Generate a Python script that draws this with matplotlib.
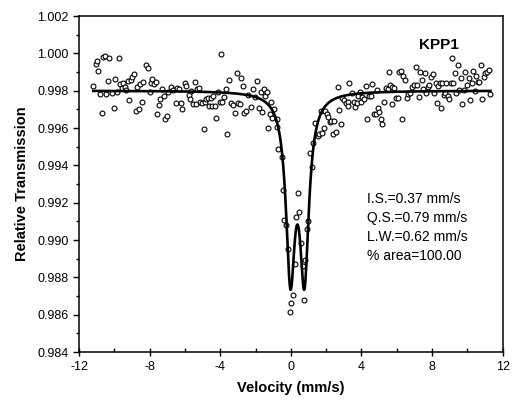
import numpy as np
import matplotlib.pyplot as plt

plt.rcParams['font.family'] = ['Liberation Sans', 'DejaVu Sans']
plt.rcParams['axes.unicode_minus'] = False

# measured spectrum (velocity in mm/s, relative transmission)
velocity = [
    -11.19, -11.06, -11.00, -10.91, -10.81, -10.72, -10.66, -10.53, -10.48, -10.38,
    -10.29, -10.15, -10.04, -9.95, -9.87, -9.76, -9.69, -9.59, -9.50, -9.40,
    -9.31, -9.23, -9.16, -9.08, -8.99, -8.89, -8.78, -8.71, -8.60, -8.52,
    -8.44, -8.37, -8.18, -8.09, -7.99, -7.93, -7.84, -7.77, -7.65, -7.56,
    -7.47, -7.39, -7.30, -7.20, -7.13, -7.01, -6.94, -6.77, -6.68, -6.52,
    -6.45, -6.34, -6.24, -6.14, -6.00, -5.92,
    -5.79, -5.73, -5.64, -5.55, -5.45, -5.39, -5.30, -5.22, -5.13, -5.04,
    -4.94, -4.89, -4.79, -4.70, -4.64, -4.55, -4.47, -4.39, -4.32, -4.22,
    -4.13, -4.02, -3.96, -3.89, -3.80, -3.68, -3.60, -3.51, -3.38, -3.25,
    -3.15, -3.06, -2.97, -2.87, -2.80, -2.70, -2.63, -2.53, -2.40, -2.27,
    -2.17, -2.02, -1.93, -1.82, -1.72, -1.65, -1.55, -1.48, -1.38,
    -1.31, -1.20, -1.13, -1.06, -0.97, -0.80, -0.76, -0.71, -0.52, -0.42,
    -0.37, -0.27, -0.18, -0.07, 0.01, 0.10, 0.24, 0.27, 0.38, 0.48,
    0.57, 0.67, 0.72, 0.80, 0.89, 0.99, 1.08, 1.17, 1.23, 1.34,
    1.51, 1.61, 1.70, 1.79, 1.89, 1.95, 2.02, 2.12, 2.19, 2.27,
    2.36, 2.46, 2.55, 2.68, 2.74, 2.83, 2.89, 3.02, 3.12, 3.21,
    3.26, 3.30,
    3.45, 3.55, 3.64, 3.74, 3.81, 3.91, 3.98, 4.05, 4.15, 4.25,
    4.34, 4.43, 4.53, 4.62, 4.71, 4.81, 4.88, 4.96, 5.01, 5.11,
    5.18, 5.30, 5.41, 5.50, 5.56, 5.62, 5.71, 5.75, 5.83, 5.94,
    6.05, 6.13, 6.22, 6.28, 6.35, 6.45, 6.56, 6.63, 6.73, 6.84,
    6.97, 7.07, 7.16, 7.26, 7.33, 7.42, 7.50, 7.59, 7.67, 7.76,
    7.82, 7.95, 8.05, 8.10, 8.20, 8.25, 8.35, 8.44, 8.50, 8.57,
    8.65, 8.72, 8.80, 8.88, 8.95, 9.05, 9.10, 9.19, 9.29, 9.36,
    9.46, 9.51, 9.61, 9.70, 9.80, 9.89, 9.98, 10.08, 10.17, 10.26,
    10.34, 10.42, 10.49, 10.59, 10.68, 10.77, 10.83, 10.93, 11.02, 11.11,
    11.21, 11.30,
]
transmission = [
    0.99825, 0.99941, 0.99960, 0.99905, 0.99782, 0.99682, 0.99982, 0.99987, 0.99782, 0.99852,
    0.99973, 0.99786, 0.99705, 0.99861, 0.99794, 0.99973, 0.99836, 0.99816, 0.99839, 0.99821,
    0.99803, 0.99852, 0.99750, 0.99857, 0.99875, 0.99889, 0.99692, 0.99821, 0.99700, 0.99834,
    0.99741, 0.99845, 0.99937, 0.99920, 0.99794, 0.99843, 0.99861, 0.99836, 0.99848, 0.99673,
    0.99723, 0.99755, 0.99807, 0.99771, 0.99646, 0.99664, 0.99794, 0.99821, 0.99803, 0.99732,
    0.99812, 0.99807, 0.99732, 0.99700, 0.99843, 0.99825,
    0.99777, 0.99755, 0.99800, 0.99729, 0.99845, 0.99729, 0.99807, 0.99816, 0.99741, 0.99736,
    0.99596, 0.99741, 0.99754, 0.99762, 0.99720, 0.99759, 0.99718, 0.99771, 0.99718, 0.99655,
    0.99794, 0.99739, 0.99995, 0.99739, 0.99764, 0.99809, 0.99566, 0.99857, 0.99732, 0.99723,
    0.99679, 0.99893, 0.99732, 0.99727, 0.99866, 0.99825, 0.99679, 0.99693, 0.99778, 0.99711,
    0.99811, 0.99768, 0.99853, 0.99706, 0.99794, 0.99684, 0.99809, 0.99771, 0.99793,
    0.99602, 0.99673, 0.99741, 0.99656, 0.99700, 0.99650, 0.99607, 0.99486, 0.99446, 0.99268,
    0.99107, 0.99080, 0.98952, 0.98613, 0.98661, 0.98705, 0.98870, 0.99122, 0.99253, 0.99152,
    0.98982, 0.98862, 0.98679, 0.98893, 0.99057, 0.99103, 0.99468, 0.99389, 0.99521, 0.99625,
    0.99557, 0.99568, 0.99691, 0.99572, 0.99598, 0.99691, 0.99673, 0.99657, 0.99634, 0.99638,
    0.99566, 0.99638, 0.99580, 0.99818, 0.99696, 0.99621, 0.99759, 0.99750, 0.99732, 0.99741,
    0.99718, 0.99843,
    0.99789, 0.99741, 0.99711, 0.99732, 0.99771, 0.99791, 0.99741, 0.99764, 0.99755, 0.99825,
    0.99650, 0.99773, 0.99771, 0.99834, 0.99675, 0.99673, 0.99804, 0.99706, 0.99687, 0.99650,
    0.99620, 0.99741, 0.99813, 0.99807, 0.99898, 0.99830, 0.99821, 0.99727, 0.99813, 0.99759,
    0.99762, 0.99902, 0.99907, 0.99647, 0.99880, 0.99857, 0.99759, 0.99782, 0.99789, 0.99818,
    0.99830, 0.99928, 0.99830, 0.99768, 0.99898, 0.99857, 0.99809, 0.99893, 0.99789, 0.99821,
    0.99829, 0.99872, 0.99889, 0.99786, 0.99843, 0.99732, 0.99825, 0.99843, 0.99706, 0.99843,
    0.99777, 0.99786, 0.99843, 0.99771, 0.99757, 0.99843, 0.99973, 0.99843, 0.99893, 0.99786,
    0.99938, 0.99804, 0.99866, 0.99727, 0.99804, 0.99902, 0.99830, 0.99866, 0.99750, 0.99843,
    0.99907, 0.99800, 0.99879, 0.99848, 0.99845, 0.99938, 0.99754, 0.99875, 0.99896, 0.99902,
    0.99911, 0.99782,
]

# fitted doublet parameters (as printed on the chart)
isomer_shift = 0.37     # mm/s
quad_split = 0.79       # mm/s
line_width = 0.62       # mm/s, FWHM
baseline = 0.998
line_depth = 0.0094

fit_labels = ['I.S.=0.37 mm/s', 'Q.S.=0.79 mm/s', 'L.W.=0.62 mm/s', '% area=100.00']
sample_name = 'KPP1'

x = np.array(velocity)
y = np.array(transmission)

# lorentzian doublet fit curve
v = np.linspace(x.min(), x.max(), 800)
hw = line_width / 2
c1 = isomer_shift - quad_split / 2
c2 = isomer_shift + quad_split / 2
fit = baseline - line_depth / (1 + ((v - c1) / hw) ** 2) - line_depth / (1 + ((v - c2) / hw) ** 2)

fig = plt.figure(figsize=(5.13, 4.0), dpi=100)
ax = fig.add_axes([0.154, 0.12, 0.826, 0.84])

ax.plot(x, y, 'o', mfc='white', mec='black', ms=3.5, mew=0.8, zorder=2)
ax.plot(v, fit, color='black', linewidth=1.9, zorder=3)

ax.set_xlim(-12, 12)
ax.set_ylim(0.984, 1.002)
ax.set_xticks([-12, -8, -4, 0, 4, 8, 12])
ax.set_xticks(np.arange(-12, 13, 2), minor=True)
ax.set_yticks(np.arange(0.984, 1.0021, 0.002))
ax.set_yticks(np.arange(0.984, 1.0021, 0.001), minor=True)
ax.yaxis.set_major_formatter(plt.FormatStrFormatter('%.3f'))

ax.tick_params(axis='x', which='major', direction='inout', length=6, width=1, labelsize=9)
ax.tick_params(axis='x', which='minor', direction='in', length=3, width=1)
ax.tick_params(axis='y', which='major', direction='out', length=4, width=1, labelsize=9)
ax.tick_params(axis='y', which='minor', direction='out', length=2, width=1)
for s in ax.spines.values():
    s.set_linewidth(1.1)

ax.set_xlabel('Velocity (mm/s)', fontsize=10.5, fontweight='bold', labelpad=6)
ax.set_ylabel('Relative Transmission', fontsize=10.5, fontweight='bold', labelpad=6)

ax.text(0.85, 0.915, sample_name, transform=ax.transAxes, fontsize=11,
        fontweight='bold', ha='center', va='center')
for i, t in enumerate(fit_labels):
    ax.text(0.68, 0.455 - i * 0.056, t, transform=ax.transAxes, fontsize=10,
            ha='left', va='center')

fig.savefig('out.png', dpi=100)
